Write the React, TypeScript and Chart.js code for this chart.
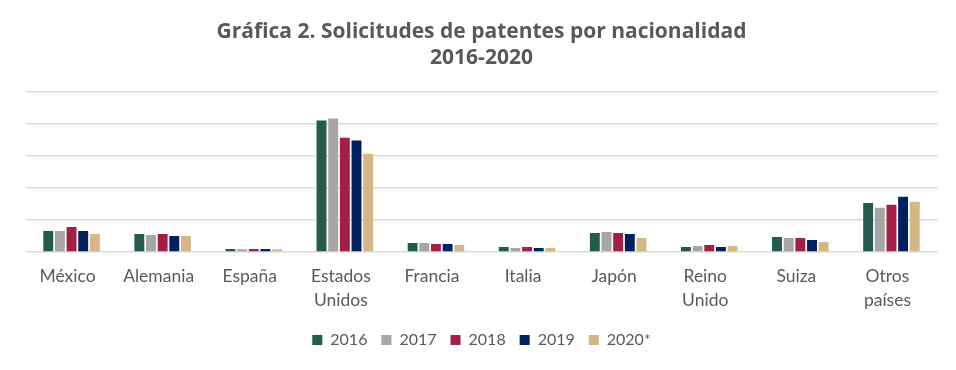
import React, { useEffect, useRef } from "react";
import { Chart, registerables } from "chart.js";

Chart.register(...registerables);

const categories: (string | string[])[] = [
  "México",
  "Alemania",
  "España",
  ["Estados", "Unidos"],
  "Francia",
  "Italia",
  "Japón",
  ["Reino", "Unido"],
  "Suiza",
  ["Otros", "países"],
];

const seriesNames = ["2016", "2017", "2018", "2019", "2020*"];

const v2016 = [1310, 1125, 180, 8190, 560, 310, 1190, 310, 940, 3060];
const v2017 = [1310, 1060, 170, 8310, 560, 250, 1250, 370, 875, 2750];
const v2018 = [1560, 1125, 180, 7125, 500, 310, 1190, 440, 875, 2940];
const v2019 = [1310, 1000, 180, 6940, 500, 250, 1125, 310, 750, 3440];
const v2020 = [1125, 1000, 170, 6125, 440, 250, 875, 370, 625, 3125];

const colors = ["#235B4E", "#A6A6A6", "#A41F45", "#002060", "#D5B787"];

const titleLines = ["Gráfica 2. Solicitudes de patentes por nacionalidad", "2016-2020"];

export default function App() {
  const ref = useRef<HTMLCanvasElement | null>(null);

  useEffect(() => {
    document.body.style.margin = "0";
    const values = [v2016, v2017, v2018, v2019, v2020];
    const chart = new Chart(ref.current as HTMLCanvasElement, {
      type: "bar",
      data: {
        labels: categories,
        datasets: seriesNames.map((name, i) => ({
          label: name,
          data: values[i],
          backgroundColor: colors[i],
          borderWidth: 0,
          categoryPercentage: 0.64,
          barPercentage: 0.85,
        })),
      },
      options: {
        responsive: false,
        animation: false,
        layout: { padding: { left: 26, right: 19, top: 0, bottom: 12 } },
        plugins: {
          title: {
            display: true,
            text: titleLines,
            color: "#595959",
            font: { family: "Open Sans", size: 21, weight: "bold", lineHeight: 1.25 },
            padding: { top: 19, bottom: 20 },
          },
          legend: {
            display: true,
            position: "bottom",
            labels: {
              boxWidth: 10,
              boxHeight: 10,
              padding: 14,
              color: "#595959",
              font: { family: "Lato", size: 16 },
            },
          },
          tooltip: { enabled: false },
        },
        scales: {
          x: {
            grid: { display: false, drawTicks: false },
            border: { display: false },
            ticks: {
              color: "#595959",
              font: { family: "Lato", size: 17.5, lineHeight: 1.35 },
              padding: 13,
              labelOffset: -4,
              maxRotation: 0,
              autoSkip: false,
            },
            afterFit: (scale: any) => {
              scale.height = 66;
            },
          },
          y: {
            min: 0,
            max: 10000,
            ticks: { display: false, stepSize: 2000 },
            grid: { color: "#D9D9D9", lineWidth: 1.5, drawTicks: false },
            border: { display: false },
            afterFit: (scale: any) => {
              scale.width = 0;
            },
          },
        },
      },
    });
    return () => chart.destroy();
  }, []);

  return (
    <div style={{ width: 956, height: 370 }}>
      <canvas ref={ref} width={956} height={370} />
    </div>
  );
}
